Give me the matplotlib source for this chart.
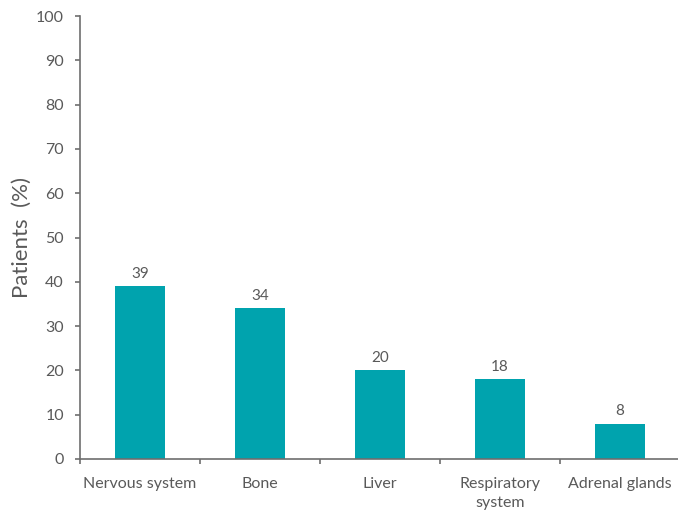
import numpy as np
import matplotlib
matplotlib.use("Agg")
import matplotlib.pyplot as plt

categories = ["Nervous system", "Bone", "Liver", "Respiratory\nsystem", "Adrenal glands"]
values = [39, 34, 20, 18, 8]
yticks = [0, 10, 20, 30, 40, 50, 60, 70, 80, 90, 100]

plt.rcParams["font.family"] = ["Lato", "DejaVu Sans"]
text_col = "#595959"
spine_col = "#6e6e6e"
bar_col = "#00A3AE"

fig = plt.figure(figsize=(6.78, 5.12), dpi=100)
ax = fig.add_axes([80 / 678, 53 / 512, 600 / 678, 443 / 512])

x = np.arange(len(categories))
bars = ax.bar(x, values, width=0.42, color=bar_col, zorder=2)
for xi, v in zip(x, values):
    ax.text(xi, v + 1.2, str(v), ha="center", va="bottom", fontsize=11, color=text_col)

ax.set_xlim(-0.5, len(categories) - 0.5)
ax.set_ylim(0, 100)
ax.set_yticks(yticks)
ax.set_xticks(x)
ax.set_xticklabels(categories, fontsize=11.5, color=text_col, linespacing=1.45)
ax.set_xticks(np.arange(len(categories) + 1) - 0.5, minor=True)
ax.tick_params(axis="x", which="major", length=0, pad=13)
ax.tick_params(axis="x", which="minor", length=3.5, width=1.2, color=spine_col)
ax.tick_params(axis="y", length=3.5, width=1.2, color=spine_col, labelsize=11.5,
               labelcolor=text_col, pad=8)
ax.set_ylabel("Patients  (%)", fontsize=16, color=text_col, labelpad=3)

for side in ("top", "right"):
    ax.spines[side].set_visible(False)
for side in ("left", "bottom"):
    ax.spines[side].set_color(spine_col)
    ax.spines[side].set_linewidth(1.2)

fig.savefig("out.png", dpi=100)
